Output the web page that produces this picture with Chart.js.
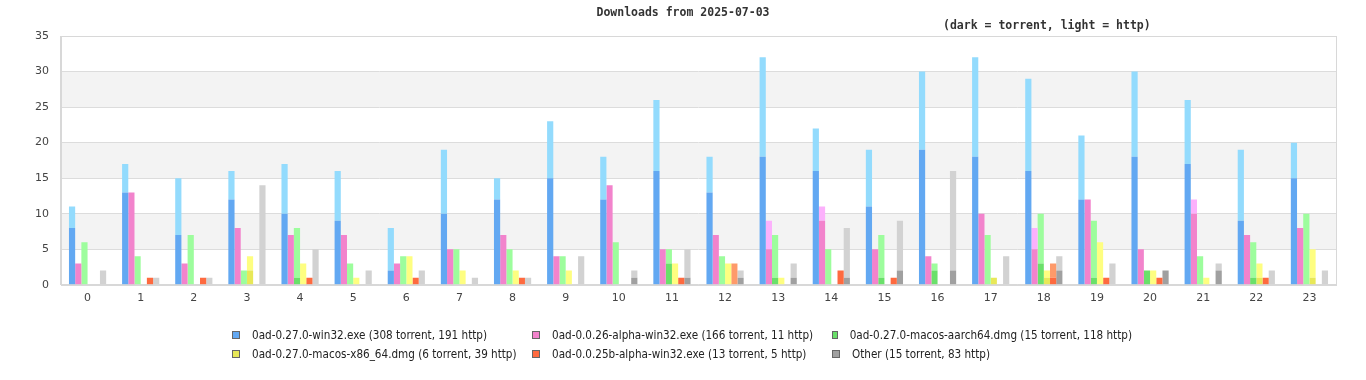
<!DOCTYPE html>
<html>
<head>
<meta charset="utf-8">
<script src="https://cdn.jsdelivr.net/npm/chart.js@4/dist/chart.umd.min.js"></script>
<style>
html,body{margin:0;padding:0;background:#fff;}
#wrap{position:relative;width:1366px;height:380px;}
#legend{position:absolute;left:232px;top:328px;width:910px;display:grid;grid-template-columns:300px 300px 300px;row-gap:5px;
font-family:"DejaVu Sans Condensed","DejaVu Sans",sans-serif;font-stretch:condensed;font-size:11.6px;color:#222;}
.item{display:flex;align-items:center;height:14px;white-space:nowrap;}
.box{width:6px;height:6px;margin-right:12px;border:1px solid;}
</style>
</head>
<body>
<div id="wrap">
<canvas id="c" width="1366" height="380"></canvas>
<div id="legend"></div>
</div>
<script>
const hours = ["0","1","2","3","4","5","6","7","8","9","10","11","12","13","14","15","16","17","18","19","20","21","22","23"];
const seriesNames = [
  "0ad-0.27.0-win32.exe (308 torrent, 191 http)",
  "0ad-0.0.26-alpha-win32.exe (166 torrent, 11 http)",
  "0ad-0.27.0-macos-aarch64.dmg (15 torrent, 118 http)",
  "0ad-0.27.0-macos-x86_64.dmg (6 torrent, 39 http)",
  "0ad-0.0.25b-alpha-win32.exe (13 torrent, 5 http)",
  "Other (15 torrent, 83 http)"
];
const win32Torrent   = [8,13,7,12,10,9,2,10,12,15,12,16,13,18,16,11,19,18,16,12,18,17,9,15];
const win32Http      = [3,4,8,4,7,7,6,9,3,8,6,10,5,14,6,8,11,14,13,9,12,9,10,5];
const a26Torrent     = [3,13,3,8,7,7,3,5,7,4,14,5,7,5,9,5,4,10,5,12,5,10,7,8];
const a26Http        = [0,0,0,0,0,0,0,0,0,0,0,0,0,4,2,0,0,0,3,0,0,2,0,0];
const aarchTorrent   = [0,0,0,0,1,0,0,0,0,0,0,3,0,1,0,1,2,0,3,1,2,0,1,0];
const aarchHttp      = [6,4,7,2,7,3,4,5,5,4,6,2,4,6,5,6,1,7,7,8,0,4,5,10];
const x86Torrent     = [0,0,0,2,0,0,0,0,0,0,0,0,0,0,0,0,0,1,1,0,0,0,1,1];
const x86Http        = [0,0,0,2,3,1,4,2,2,2,0,3,3,1,0,0,0,0,1,6,2,1,2,4];
const a25Torrent     = [0,1,1,0,1,0,1,0,1,0,0,1,0,0,2,1,0,0,1,1,1,0,1,0];
const a25Http        = [0,0,0,0,0,0,0,0,0,0,0,0,3,0,0,0,0,0,2,0,0,0,0,0];
const otherTorrent   = [0,0,0,0,0,0,0,0,0,0,1,1,1,1,1,2,2,0,2,0,2,2,0,0];
const otherHttp      = [2,1,1,14,5,2,2,1,1,4,1,4,1,2,7,7,14,4,2,3,0,1,2,2];
const yTicks = [0,5,10,15,20,25,30,35];

const darkColors  = ["#62a8f2","#f283cc","#6ae06a","#e8e858","#fe6a3f","#a0a0a0"];
const lightColors = ["#93dbfd","#fcb1fc","#9dfd9d","#fefe80","#fe9a6a","#d2d2d2"];
const torrentData = [win32Torrent,a26Torrent,aarchTorrent,x86Torrent,a25Torrent,otherTorrent];
const httpData    = [win32Http,a26Http,aarchHttp,x86Http,a25Http,otherHttp];

const datasets = [];
for (let i = 0; i < 6; i++) {
  datasets.push({label: seriesNames[i] + " torrent", data: torrentData[i], backgroundColor: darkColors[i], stack: "s" + i, borderWidth: 0});
  datasets.push({label: seriesNames[i] + " http", data: httpData[i], backgroundColor: lightColors[i], stack: "s" + i, borderWidth: 0});
}

const bandsPlugin = {
  id: "bands",
  beforeDraw(chart) {
    const {ctx, chartArea: a, scales: {y}} = chart;
    ctx.save();
    ctx.fillStyle = "#f3f3f3";
    for (let v = 5; v < 35; v += 10) {
      const top = y.getPixelForValue(v + 5), bot = y.getPixelForValue(v);
      ctx.fillRect(a.left, top, a.right - a.left, bot - top);
    }
    ctx.restore();
  },
  afterDraw(chart) {
    const {ctx, chartArea: a} = chart;
    ctx.save();
    ctx.strokeStyle = "#d8d8d8";
    ctx.lineWidth = 1;
    ctx.strokeRect(Math.round(a.left) + 0.5, Math.round(a.top) + 0.5, Math.round(a.right - a.left), Math.round(a.bottom - a.top));
    ctx.fillStyle = "#333";
    ctx.font = "bold 11.5px 'DejaVu Sans Mono', monospace";
    ctx.textBaseline = "middle";
    ctx.textAlign = "center";
    ctx.fillText("Downloads from 2025-07-03", 683, 13);
    ctx.textAlign = "left";
    ctx.fillText("(dark = torrent, light = http)", 943, 26);
    ctx.restore();
  }
};

new Chart(document.getElementById("c"), {
  type: "bar",
  data: {labels: hours, datasets},
  plugins: [bandsPlugin],
  options: {
    responsive: false,
    animation: false,
    layout: {padding: {left: 23, right: 30, top: 36, bottom: 68}},
    plugins: {legend: {display: false}, tooltip: {enabled: false}, title: {display: false}},
    datasets: {bar: {categoryPercentage: 0.7, barPercentage: 1.0}},
    scales: {
      x: {
        stacked: true,
        grid: {display: false, drawTicks: false},
        border: {display: true, color: "#d8d8d8"},
        ticks: {padding: 7, color: "#444", font: {family: "'DejaVu Sans'", size: 11}}
      },
      y: {
        stacked: true,
        min: 0, max: 35,
        afterBuildTicks(scale) { scale.ticks = yTicks.map(v => ({value: v})); },
        grid: {color: "#dcdcdc", drawTicks: false},
        border: {display: true, color: "#d8d8d8"},
        ticks: {padding: 12, color: "#444", font: {family: "'DejaVu Sans'", size: 11}}
      }
    }
  }
});

const legend = document.getElementById("legend");
seriesNames.forEach((name, i) => {
  const it = document.createElement("div");
  it.className = "item";
  const b = document.createElement("span");
  b.className = "box";
  b.style.background = darkColors[i];
  b.style.borderColor = "#666";
  it.appendChild(b);
  const t = document.createElement("span");
  t.textContent = name;
  it.appendChild(t);
  legend.appendChild(it);
});
</script>
</body>
</html>
